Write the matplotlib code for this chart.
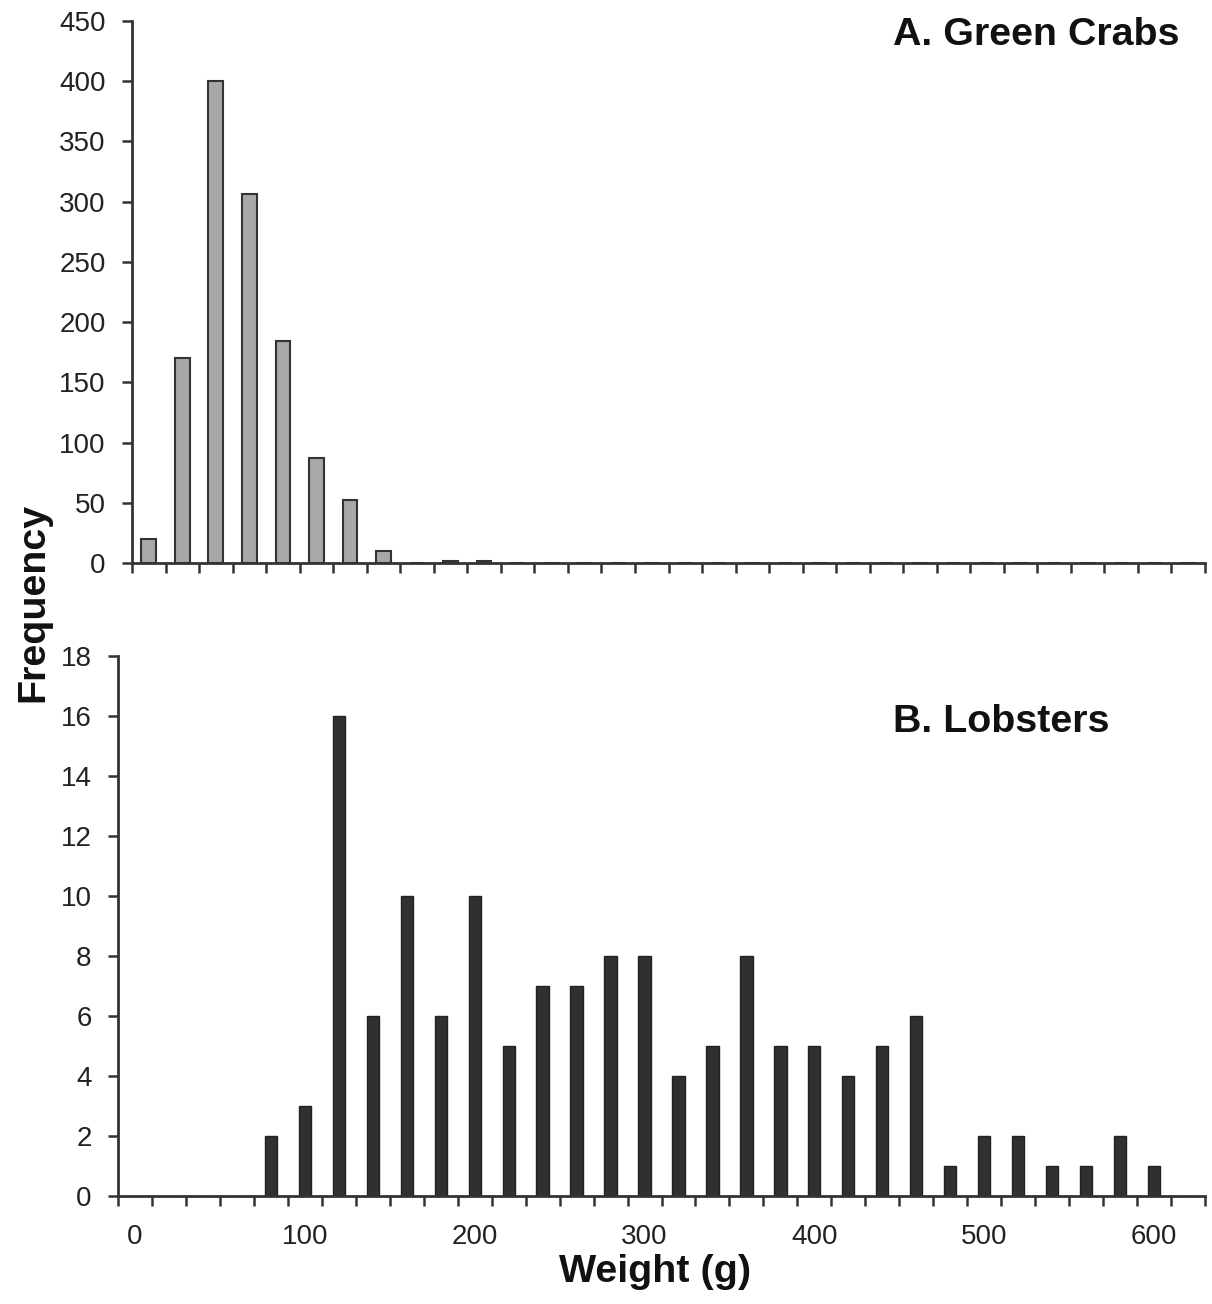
import matplotlib
matplotlib.use("Agg")
import matplotlib.pyplot as plt
import numpy as np

plt.rcParams['font.family'] = ['Liberation Sans', 'DejaVu Sans']

# 20 g weight classes, 0..620
weight_classes = list(range(0, 640, 20))

# A. green crabs (frequency per class)
crab_freq = [20, 170, 400, 306, 184, 87, 52, 10, 0, 2, 2,
             0, 0, 0, 0, 0, 0, 0, 0, 0, 0, 0, 0, 0, 0, 0, 0, 0, 0, 0, 0, 0]

# B. lobsters
lobster_freq = [0, 0, 0, 0, 2, 3, 16, 6, 10, 6, 10, 5, 7, 7, 8, 8,
                4, 5, 8, 5, 5, 4, 5, 6, 1, 2, 2, 1, 1, 2, 1, 0]

xlabels = ['0', '100', '200', '300', '400', '500', '600']

W, H = 1212, 1304
fig = plt.figure(figsize=(W / 100, H / 100), dpi=100)

axc = '#333333'


def style_axes(ax):
    for s in ['top', 'right']:
        ax.spines[s].set_visible(False)
    for s in ['left', 'bottom']:
        ax.spines[s].set_linewidth(2)
        ax.spines[s].set_color(axc)
    ax.tick_params(axis='both', which='major', direction='out', length=7,
                   width=1.8, color=axc, labelsize=20, labelcolor='#222222')
    ax.tick_params(axis='y', pad=12)


n = len(weight_classes)
x = np.arange(n)

# top panel
ax1 = fig.add_axes([132 / W, 1 - 563 / H, (1205 - 132) / W, (563 - 21) / H])
ax1.bar(x, crab_freq, width=0.44, color='#a8a8a8', edgecolor='#333333', linewidth=1.5)
ax1.set_xlim(-0.5, n - 0.5)
ax1.set_ylim(0, 450)
ax1.set_yticks(range(0, 451, 50))
ax1.set_xticks(np.arange(-0.5, n, 1.0))
ax1.set_xticklabels([])
style_axes(ax1)
ax1.text(893 / W, 1 - 35 / H, 'A. Green Crabs', transform=fig.transFigure,
         fontsize=28.4, fontweight='bold', ha='left', va='center', color='#111111')

# bottom panel
ax2 = fig.add_axes([118 / W, 1 - 1196 / H, (1205 - 118) / W, (1196 - 656) / H])
ax2.bar(x, lobster_freq, width=0.36, color='#303030', edgecolor='#222222', linewidth=1)
ax2.set_xlim(-0.5, n - 0.5)
ax2.set_ylim(0, 18)
ax2.set_yticks(range(0, 19, 2))
ax2.set_xticks(np.arange(-0.5, n, 1.0))
ax2.set_xticklabels([])
lab_pos = [weight_classes.index(int(v)) for v in xlabels]
ax2.set_xticks(lab_pos, minor=True)
ax2.set_xticklabels(xlabels, minor=True)
style_axes(ax2)
ax2.tick_params(axis='x', which='minor', length=0, pad=20, labelsize=20,
                labelcolor='#222222')
ax2.text(893 / W, 1 - 722 / H, 'B. Lobsters', transform=fig.transFigure,
         fontsize=28.4, fontweight='bold', ha='left', va='center', color='#111111')

fig.text(33 / W, 1 - 602 / H, 'Frequency', rotation=90, fontsize=28.4,
         fontweight='bold', ha='center', va='center', color='#111111')
fig.text(655 / W, 1 - 1272 / H, 'Weight (g)', fontsize=28.4,
         fontweight='bold', ha='center', va='center', color='#111111')

fig.savefig('out.png', dpi=100, facecolor='white')
